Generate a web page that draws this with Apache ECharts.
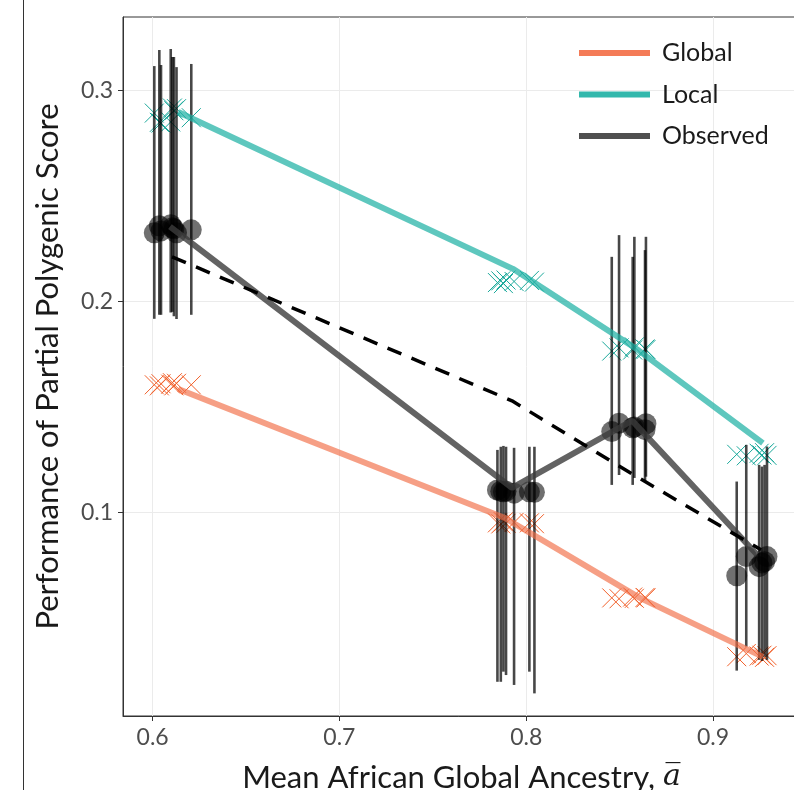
<!DOCTYPE html>
<html><head><meta charset="utf-8">
<script src="https://cdn.jsdelivr.net/npm/echarts@6/dist/echarts.min.js"></script>
<style>html,body{margin:0;padding:0;background:#fff}#c{width:794px;height:790px}</style>
</head><body><div id="c"></div>
<script>
// ---- data ----
const xTicks = [0.6, 0.7, 0.8, 0.9];
const yTicks = [0.1, 0.2, 0.3];

// per-sample values (4 ancestry groups)
const ancestry = [
  0.6009, 0.6036, 0.6045, 0.6097, 0.6106, 0.6114, 0.6128, 0.6207,
  0.7846, 0.7864, 0.7878, 0.7892, 0.7935, 0.8017, 0.8044,
  0.8458, 0.8497, 0.8570, 0.8579, 0.8636, 0.8641,
  0.9127, 0.9178, 0.9247, 0.9262, 0.9276, 0.9289
];
const observed = [
  0.2326, 0.2359, 0.2335, 0.2364, 0.2350, 0.2345, 0.2326, 0.2340,
  0.1106, 0.1100, 0.1097, 0.1100, 0.1091, 0.1097, 0.1095,
  0.1383, 0.1423, 0.1401, 0.1405, 0.1392, 0.1420,
  0.0699, 0.0790, 0.0742, 0.0760, 0.0766, 0.0790
];
const ciLow = [
  0.1918, 0.1937, 0.1937, 0.1948, 0.1951, 0.1930, 0.1917, 0.1937,
  0.0196, 0.0196, 0.0244, 0.0228, 0.0181, 0.0244, 0.0141,
  0.1130, 0.1177, 0.1130, 0.1163, 0.1146, 0.1169,
  0.0249, 0.0363, 0.0300, 0.0295, 0.0315, 0.0300
];
const ciHigh = [
  0.3117, 0.3193, 0.3122, 0.3198, 0.3160, 0.3160, 0.3112, 0.3127,
  0.1296, 0.1311, 0.1315, 0.1311, 0.1306, 0.1311, 0.1311,
  0.2212, 0.2315, 0.2212, 0.2307, 0.2244, 0.2307,
  0.1146, 0.1320, 0.1225, 0.1217, 0.1225, 0.1312
];
const localPred = [
  0.2894, 0.2850, 0.2847, 0.2852, 0.2918, 0.2905, 0.2915, 0.2872,
  0.2090, 0.2098, 0.2085, 0.2102, 0.2095, 0.2100, 0.2092,
  0.1765, 0.1780, 0.1770, 0.1785, 0.1775, 0.1772,
  0.1275, 0.1268, 0.1280, 0.1272, 0.1283, 0.1270
];
const globalPred = [
  0.1605, 0.1600, 0.1610, 0.1608, 0.1615, 0.1600, 0.1612, 0.1605,
  0.0950, 0.0945, 0.0955, 0.0948, 0.0952, 0.0950, 0.0946,
  0.0594, 0.0590, 0.0598, 0.0592, 0.0596, 0.0594,
  0.0315, 0.0330, 0.0318, 0.0322, 0.0312, 0.0320
];

// summary lines
const localLineX  = [0.6137, 0.7929, 0.8583, 0.9267];
const localLine   = [0.2899, 0.2155, 0.1780, 0.1328];
const globalLineX = [0.6137, 0.7886, 0.8608, 0.9267];
const globalLine  = [0.1585, 0.0973, 0.0594, 0.0314];
const obsLineX    = [0.6093, 0.7924, 0.8567, 0.9235];
const obsLine     = [0.2355, 0.1116, 0.1435, 0.0800];
const expLineX    = [0.6104, 0.7924, 0.8567, 0.9257];
const expLine     = [0.2212, 0.1529, 0.1182, 0.0822];

// ---- chart ----
const FONT = 'Lato';
const zip = (xs, ys) => xs.map((x, i) => [x, ys[i]]);
const chart = echarts.init(document.getElementById('c'), null, {renderer: 'canvas'});

function crossRender(color) {
  return function (params, api) {
    const p = api.coord([api.value(0), api.value(1)]);
    const h = 9.5;
    return {type: 'group', children: [
      {type: 'line', shape: {x1: p[0]-h, y1: p[1]-h, x2: p[0]+h, y2: p[1]+h}, style: {stroke: color, lineWidth: 1}},
      {type: 'line', shape: {x1: p[0]-h, y1: p[1]+h, x2: p[0]+h, y2: p[1]-h}, style: {stroke: color, lineWidth: 1}}
    ]};
  };
}

const option = {
  animation: false,
  backgroundColor: '#fff',
  graphic: [{
    type: 'rect', shape: {x: 23, y: 0, width: 1, height: 790},
    style: {fill: '#333'}, silent: true, z: 100
  }],
  grid: {left: 123, top: 17, right: -6, bottom: 74, show: true, borderColor: '#333', borderWidth: 1,
    backgroundColor: '#fff', containLabel: false, outerBoundsMode: 'none'},
  legend: {
    orient: 'vertical', left: 579, top: 38, padding: 0, itemWidth: 71, itemHeight: 6, itemGap: 11.5,
    icon: 'rect', selectedMode: false,
    textStyle: {fontFamily: FONT, fontSize: 25, color: '#1a1a1a', lineHeight: 30, padding: [0, 0, 0, 7]},
    data: [
      {name: 'Global', itemStyle: {color: '#f47b57'}},
      {name: 'Local', itemStyle: {color: '#33b8ac'}},
      {name: 'Observed', itemStyle: {color: '#4f4f4f'}}
    ]
  },
  xAxis: {
    type: 'value', min: 0.58415, max: 0.94657, splitNumber: 8,
    name: 'Mean African Global Ancestry, {a|a\u0305}', nameLocation: 'middle', nameGap: 46,
    nameTextStyle: {fontFamily: FONT, fontSize: 31, color: '#1a1a1a',
      rich: {a: {fontFamily: 'DejaVu Serif', fontStyle: 'italic', fontSize: 30, color: '#1a1a1a'}}},
    axisLine: {show: true, lineStyle: {color: '#333', width: 1}},
    axisTick: {show: true, length: 5, customValues: xTicks, lineStyle: {color: '#333'}},
    axisLabel: {customValues: xTicks, formatter: v => v.toFixed(1), fontFamily: FONT, fontSize: 23, color: '#4d4d4d', margin: 10},
    splitLine: {show: true, lineStyle: {color: '#ebebeb', width: 1}}
  },
  yAxis: {
    type: 'value', min: 0.00337, max: 0.33498, splitNumber: 8,
    name: 'Performance of Partial Polygenic Score', nameLocation: 'middle', nameGap: 60, nameRotate: 90,
    nameTextStyle: {fontFamily: FONT, fontSize: 31, color: '#1a1a1a'},
    axisLine: {show: true, lineStyle: {color: '#333', width: 1}},
    axisTick: {show: true, length: 5, customValues: yTicks, lineStyle: {color: '#333'}},
    axisLabel: {customValues: yTicks, formatter: v => v.toFixed(1), fontFamily: FONT, fontSize: 23, color: '#4d4d4d', margin: 10},
    splitLine: {show: true, lineStyle: {color: '#ebebeb', width: 1}}
  },
  series: [
    {name: 'Local', type: 'line', data: zip(localLineX, localLine), showSymbol: false, symbol: 'none',
      lineStyle: {color: 'rgba(32,178,165,0.72)', width: 6}, itemStyle: {color: '#33b8ac'}},
    {name: 'Global', type: 'line', data: zip(globalLineX, globalLine), showSymbol: false, symbol: 'none',
      lineStyle: {color: 'rgba(242,110,70,0.66)', width: 6}, itemStyle: {color: '#f47b57'}},
    {type: 'custom', renderItem: crossRender('#1aa99b'), data: zip(ancestry, localPred)},
    {type: 'custom', renderItem: crossRender('#f2612b'), data: zip(ancestry, globalPred)},
    {type: 'custom', data: ancestry.map((x, i) => [x, ciLow[i], ciHigh[i]]),
      renderItem: function (params, api) {
        const a = api.coord([api.value(0), api.value(1)]);
        const b = api.coord([api.value(0), api.value(2)]);
        return {type: 'line', shape: {x1: a[0], y1: a[1], x2: b[0], y2: b[1]},
          style: {stroke: 'rgba(0,0,0,0.72)', lineWidth: 2.6}};
      }},
    {name: 'Observed', type: 'line', data: zip(obsLineX, obsLine), showSymbol: false, symbol: 'none',
      lineStyle: {color: 'rgba(60,60,60,0.8)', width: 6}, itemStyle: {color: '#4f4f4f'}},
    {type: 'scatter', data: zip(ancestry, observed), symbolSize: 21,
      itemStyle: {color: 'rgba(0,0,0,0.7)'}},
    {type: 'line', data: zip(expLineX, expLine), showSymbol: false, symbol: 'none',
      lineStyle: {color: '#000', width: 3.5, type: [15, 11]}}
  ]
};
chart.setOption(option);
</script></body></html>
